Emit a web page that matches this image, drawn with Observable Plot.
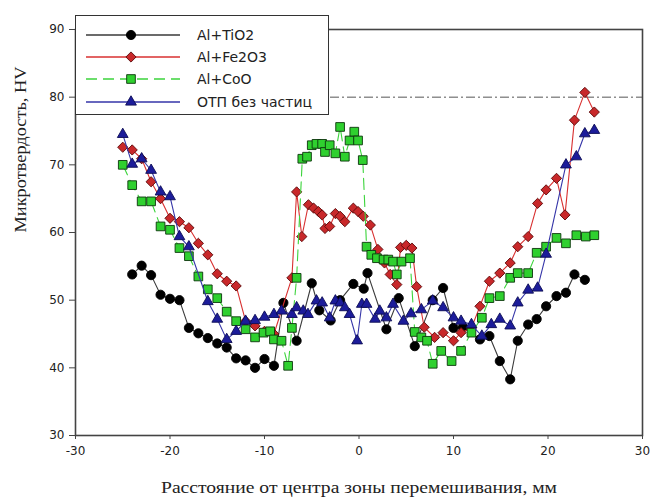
<!DOCTYPE html>
<html>
<head>
<meta charset="utf-8">
<script src="https://cdn.jsdelivr.net/npm/d3@7"></script>
<script src="https://cdn.jsdelivr.net/npm/@observablehq/plot@0.6"></script>
<style>
  body { margin: 0; background: white; }
  #wrap { position: relative; width: 651px; height: 503px; }
  #legend { position: absolute; left: 75px; top: 15px; width: 254px; height: 100px;
            border: 1.5px solid #333; background: white; box-sizing: border-box; }
</style>
</head>
<body>
<div id="wrap"><div id="legend"></div></div>
<script>
// ---- data (x: mm from centre of stir zone, y: HV) ----
const seriesNames = ["Al+TiO2", "Al+Fe2O3", "Al+CoO", "ОТП без частиц"];

const tio2X = [-24,-23,-22,-21,-20,-19,-18,-17,-16,-15,-14,-13,-12,-11,-10,-9,-8,-6.6,-5,-4.2,-3,-2,-0.6,0.5,0.9,2.9,4.2,5.9,7.8,8.9,10,11,12.8,13.8,14.9,16,16.8,17.9,18.8,19.8,20.9,21.9,22.8,23.9];
const tio2Y = [53.8,55.1,53.7,50.8,50.2,50,45.9,45.1,44.4,43.6,43,41.4,41.1,40,41.3,40.3,49.6,44,52.5,48.5,47,50,52.4,51.7,54,45.7,50.3,43.2,50,51.8,45.9,46,44.2,44.7,41,38.3,44,46.4,47.2,49.1,50.6,51.1,53.8,53];

const fe2o3X = [-25,-24,-23,-22,-21,-20,-19,-18,-17,-16,-15,-14,-13,-12,-11,-10,-9,-7.1,-6.6,-6.05,-5.35,-4.8,-4.3,-3.9,-3.6,-3.1,-2.5,-2.0,-1.5,-0.6,-0.1,0.45,1.2,2,2.7,3.3,4,4.4,5,5.6,6.1,6.9,8,8.9,10,10.8,11.9,12.8,13.8,14.9,16,16.8,17.9,18.9,19.8,20.9,21.8,22.8,23.9,24.9];
const fe2o3Y = [72.6,72.2,70.9,67.5,65,62.1,61.6,60.7,58.4,56.7,53.9,52.8,52.1,46.9,46.2,45.4,45,53.3,66,59.4,64.1,63.6,63.1,62.6,60.6,60.9,62.8,62.4,61.6,63.6,63.1,62.4,61.1,57.5,55.5,53.8,52.3,57.8,58.1,57.7,52,46,44.5,45.2,44,45.2,45.9,49.1,52.8,54,55.5,57.9,59.4,64.3,66.3,68,62.6,76.6,80.7,77.8];

const cooX = [-25,-24,-23,-22,-21,-20,-19,-18,-17,-16,-15,-14,-13,-12,-11,-10.1,-9.4,-9,-8.2,-7.5,-7.1,-6.6,-6,-5.5,-5,-4.5,-3.9,-3.6,-3.1,-2.5,-2,-1.5,-1,-0.5,-0.1,0.4,0.8,1.3,1.9,2.6,3.1,3.6,4,4.5,5.4,5.9,6.6,7.2,7.8,8.7,9.8,10.8,11.9,13,13.8,14.9,16,16.8,17.9,18.8,19.8,20.9,21.9,23,24,24.9];
const cooY = [70,67,64.6,64.6,60.9,60.4,57.7,56.5,53.5,51.6,50.3,48.3,46.9,45.7,44.5,45.2,45.4,44.2,44,40.3,45.9,53.3,70.9,71.2,72.9,73.1,73.1,71.9,72.9,71.7,75.6,71.2,73.6,74.9,73.6,70.7,57.9,56.7,56.2,56,56,55.7,53.8,55.7,56.2,45.3,44.5,44,40.6,42.5,41,42.5,45.2,47.4,50.3,50.6,53.3,54,54,57,57.9,59.2,58.4,59.6,59.4,59.6];

const otpX = [-25,-24,-23,-22,-21,-20,-19,-18,-16,-15,-14,-13,-12,-11,-10,-9,-8.2,-7.1,-6.6,-5.9,-5.4,-4.5,-3.9,-3.1,-2.5,-2,-1.5,-1,-0.2,0.3,0.8,1.7,2.2,2.9,3.6,4.7,5.5,6.6,7.8,8.9,10,10.8,11.9,13,14,14.9,16,16.8,17.9,18.9,19.8,21.9,23,23.9,24.9];
const otpY = [74.5,70.1,70.9,69.2,66,65.3,59.4,57.9,49.8,47.2,44.2,45.4,46.9,47,47.5,47.9,48.4,47.9,48.9,48.4,47.9,49.9,49.6,47.4,49.9,49.6,48.9,47.9,44,49.4,49.4,47.2,48.4,47.4,49.4,46.9,48,48.6,49.9,48.9,47.4,46.9,46.4,44.7,46.4,47.2,46.2,49.6,51.5,51.8,56.8,70,71.2,74.6,75.1];

const refLevel = [80];
const xTicks = [-30,-20,-10,0,10,20,30];
const yTicks = [30,40,50,60,70,80,90];
const xTitle = "Расстояние от центра зоны перемешивания, мм";
const yTitle = "Микротвердость, HV";

// ---- styles ----
const styles = [
  {line: "#3a3a3a", dash: null, symbol: "circle", r: 4.6, fill: "#000", stroke: "#000"},
  {line: "#d83030", dash: null, symbol: "diamond2", r: 4.6, fill: "#c8282a", stroke: "#5a0808"},
  {line: "#3cd43c", dash: "11,6", symbol: "square", r: 4.9, fill: "#2fd02f", stroke: "#0c360c"},
  {line: "#3535a8", dash: null, symbol: "triangle", r: 4.0, fill: "#1c1c9a", stroke: "#0c0c55"}
];

const toRows = (xs, ys) => xs.map((x, i) => ({x, y: ys[i]}));
const data = [toRows(tio2X, tio2Y), toRows(fe2o3X, fe2o3Y), toRows(cooX, cooY), toRows(otpX, otpY)];

const seriesMarks = data.flatMap((rows, i) => {
  const s = styles[i];
  return [
    Plot.line(rows, {x: "x", y: "y", stroke: s.line, strokeWidth: 1.1, strokeDasharray: s.dash}),
    Plot.dot(rows, {x: "x", y: "y", symbol: s.symbol, r: s.r, fill: s.fill, stroke: s.stroke, strokeWidth: 0.9})
  ];
});

const serif = "'Liberation Serif', 'Times New Roman', serif";
const chart = Plot.plot({
  width: 651, height: 503,
  marginLeft: 75, marginRight: 9, marginTop: 29, marginBottom: 68,
  x: {domain: [-30, 30]},
  y: {domain: [30, 90]},
  style: {fontFamily: "'DejaVu Sans', sans-serif", fontSize: "12px", color: "#222", background: "white"},
  marks: [
    Plot.ruleY(refLevel, {stroke: "#555", strokeWidth: 1, strokeDasharray: "9,3,2,3"}),
    ...seriesMarks,
    Plot.frame({stroke: "#444", strokeWidth: 1.6}),
    Plot.axisX({ticks: xTicks, tickSize: 4, tickPadding: 7, tickFormat: d => String(d), label: null, stroke: "#444"}),
    Plot.axisY({ticks: yTicks, tickSize: 6, tickPadding: 5, tickFormat: d => String(d), label: null, stroke: "#444"}),
    Plot.text([xTitle], {frameAnchor: "bottom", dy: 57, fontFamily: serif, fontSize: 16, fill: "#222"}),
    Plot.text([yTitle], {frameAnchor: "left", dx: -55, rotate: -90, fontFamily: serif, fontSize: 16, fill: "#222"})
  ]
});
document.getElementById("wrap").prepend(chart);

// stretch the serif titles horizontally like the reference rendering
d3.select(chart).selectAll("text").each(function() {
  const t = this.textContent;
  if (t === xTitle) d3.select(this).attr("textLength", 396).attr("lengthAdjust", "spacingAndGlyphs");
  if (t === yTitle) d3.select(this).attr("textLength", 166).attr("lengthAdjust", "spacingAndGlyphs");
});

// ---- legend ----
const lg = d3.select("#legend").append("svg").attr("width", 251).attr("height", 97);
const rowY = [19, 41, 63, 86];
seriesNames.forEach((name, i) => {
  const s = styles[i];
  const y = rowY[i];
  lg.append("line").attr("x1", 10).attr("x2", 104).attr("y1", y).attr("y2", y)
    .attr("stroke", s.line).attr("stroke-width", 1.3).attr("stroke-dasharray", s.dash);
  const symType = {circle: d3.symbolCircle, diamond2: d3.symbolDiamond2, square: d3.symbolSquare, triangle: d3.symbolTriangle}[s.symbol];
  lg.append("path").attr("d", d3.symbol(symType, s.r * s.r * Math.PI)())
    .attr("transform", `translate(55,${y})`).attr("fill", s.fill).attr("stroke", s.stroke).attr("stroke-width", 0.9);
  lg.append("text").attr("x", 121).attr("y", y).attr("dy", "0.35em")
    .attr("font-family", "'DejaVu Sans', sans-serif").attr("font-size", 14).attr("fill", "#222").text(name);
});
</script>
</body>
</html>
